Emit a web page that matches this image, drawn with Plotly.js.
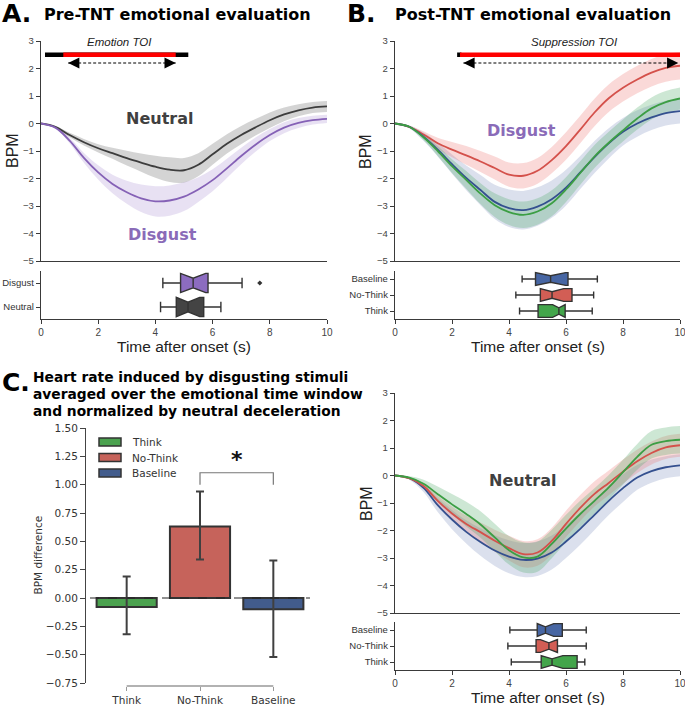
<!DOCTYPE html>
<html><head><meta charset="utf-8">
<script src="https://cdn.plot.ly/plotly-3.0.1.min.js"></script>
<style>html,body{margin:0;padding:0;background:#fff}#chart{width:685px;height:705px}</style>
</head><body><div id="chart"></div>
<script>
// ---------------- DATA ----------------
const time = [0,0.5,1,1.5,2,2.5,3,3.5,4,4.5,5,5.5,6,6.5,7,7.5,8,8.5,9,9.5,10];

// A. Pre-TNT
const preNeutral     = [0,-0.12,-0.42,-0.68,-0.9,-1.08,-1.26,-1.42,-1.57,-1.68,-1.7,-1.5,-1.12,-0.74,-0.42,-0.14,0.12,0.33,0.48,0.58,0.62];
const preNeutralSem  = [0,0.03,0.08,0.12,0.15,0.2,0.27,0.33,0.4,0.45,0.45,0.42,0.38,0.35,0.33,0.3,0.28,0.25,0.22,0.2,0.2];
const preDisgust     = [0,-0.15,-0.62,-1.25,-1.78,-2.2,-2.5,-2.72,-2.83,-2.8,-2.66,-2.4,-2.06,-1.63,-1.18,-0.77,-0.42,-0.15,0.02,0.12,0.17];
const preDisgustSem  = [0,0.03,0.1,0.18,0.26,0.34,0.42,0.5,0.55,0.55,0.52,0.45,0.4,0.35,0.3,0.26,0.22,0.2,0.18,0.16,0.15];

// B. Post-TNT, disgust
const postBaseline    = [0,-0.12,-0.48,-0.95,-1.48,-1.98,-2.42,-2.85,-3.08,-3.15,-3.02,-2.75,-2.33,-1.78,-1.22,-0.72,-0.3,0.0,0.22,0.38,0.45];
const postBaselineSem = [0,0.05,0.15,0.25,0.35,0.45,0.55,0.62,0.68,0.7,0.7,0.68,0.65,0.6,0.58,0.55,0.5,0.48,0.46,0.45,0.45];
const postNoThink     = [0,-0.12,-0.4,-0.72,-0.95,-1.16,-1.38,-1.62,-1.86,-1.9,-1.72,-1.33,-0.82,-0.22,0.4,0.92,1.3,1.6,1.85,2.02,2.1];
const postNoThinkSem  = [0,0.04,0.12,0.2,0.28,0.34,0.38,0.42,0.44,0.46,0.47,0.48,0.5,0.5,0.5,0.5,0.5,0.5,0.5,0.5,0.5];
const postThink       = [0,-0.12,-0.5,-1.0,-1.55,-2.05,-2.55,-2.97,-3.22,-3.32,-3.2,-2.9,-2.4,-1.8,-1.2,-0.7,-0.25,0.18,0.55,0.78,0.91];
const postThinkSem    = [0,0.04,0.1,0.18,0.25,0.32,0.38,0.43,0.47,0.48,0.48,0.47,0.45,0.43,0.42,0.4,0.4,0.4,0.4,0.4,0.4];

// Post-TNT, neutral
const neuBaseline    = [0,-0.1,-0.45,-1.08,-1.6,-2.05,-2.42,-2.73,-2.95,-3.07,-3.02,-2.8,-2.4,-1.94,-1.43,-0.92,-0.46,-0.07,0.16,0.3,0.37];
const neuBaselineSem = [0,0.05,0.15,0.25,0.35,0.42,0.5,0.56,0.6,0.62,0.63,0.62,0.6,0.58,0.55,0.52,0.5,0.45,0.42,0.4,0.4];
const neuNoThink     = [0,-0.1,-0.38,-0.92,-1.38,-1.76,-2.06,-2.37,-2.64,-2.86,-2.8,-2.38,-1.76,-1.18,-0.67,-0.27,0.14,0.52,0.82,1.02,1.1];
const neuNoThinkSem  = [0,0.04,0.1,0.18,0.25,0.3,0.35,0.4,0.45,0.48,0.48,0.48,0.48,0.47,0.46,0.45,0.44,0.43,0.42,0.42,0.42];
const neuThink       = [0,-0.08,-0.3,-0.68,-1.05,-1.4,-1.78,-2.25,-2.72,-2.98,-2.95,-2.49,-1.93,-1.4,-0.92,-0.43,0.12,0.68,1.12,1.25,1.3];
const neuThinkSem    = [0,0.05,0.15,0.28,0.38,0.45,0.48,0.5,0.52,0.55,0.55,0.52,0.5,0.48,0.46,0.45,0.45,0.47,0.5,0.5,0.5];

// Box plots (peak latency, s)
const preCats   = ['Disgust','Neutral'];
const preLo     = [4.26, 4.18];
const preQ1     = [4.88, 4.73];
const preMed    = [5.32, 5.14];
const preQ3     = [5.84, 5.69];
const preHi     = [7.03, 6.29];
const preOutlierCat = ['Disgust'];
const preOutlier    = [7.65];

const condCats  = ['Baseline','No-Think','Think'];
const postLo    = [4.46, 4.24, 4.37];
const postQ1    = [4.93, 5.10, 5.02];
const postMed   = [5.46, 5.51, 5.75];
const postQ3    = [6.07, 6.21, 5.97];
const postHi    = [7.10, 6.97, 6.92];

const neuLo     = [4.03, 3.96, 4.08];
const neuQ1     = [4.99, 4.95, 5.13];
const neuMed    = [5.28, 5.40, 5.51];
const neuQ3     = [5.87, 5.70, 6.39];
const neuHi     = [6.71, 6.71, 6.66];

// C. Bars
const conditions = ['Think','No-Think','Baseline'];
const bpmDiff    = [-0.08, 0.63, -0.10];
const ciUpper    = [0.19, 0.94, 0.33];
const ciLower    = [-0.32, 0.34, -0.52];

// TOI windows
const emotionToiLine  = [0.14, 5.15];
const emotionToiRed   = [0.78, 4.71];
const emotionToiArrow = [0.95, 4.71];
const suppToiRed      = [2.28, 10];
const suppToiArrow    = [2.4, 9.94];

// ---------------- STYLE ----------------
const W = 685, H = 705;
const fx = v => v / W, fy = v => 1 - v / H;
const AR = 'Liberation Sans, Arial, sans-serif';
const DJ = 'DejaVu Sans, Verdana, sans-serif';
const axCol = '#3a3a3a';
const C = {
  neutral:'#3d3d3d', disgust:'#8561b6',
  base:'#34508f', nothink:'#d4514b', think:'#3c9e44'
};
const F = {
  neutral:'rgba(120,120,120,0.32)', disgust:'rgba(150,120,200,0.22)',
  base:'rgba(110,130,185,0.25)', nothink:'rgba(235,115,110,0.27)', think:'rgba(70,165,95,0.27)'
};
const BOX = {Disgust:'#8c6cc0', Neutral:'#444444', Baseline:'#4766a3', 'No-Think':'#d25e55', Think:'#43a54b'};
const BAR = {Think:'#4ba24f', 'No-Think':'#c6635b', Baseline:'#425c8c'};

// ---------------- TRACES ----------------
const traces = [];
function band(m, s, fill, xa, ya){
  const lo = m.map((v,i)=>v-s[i]), hi = m.map((v,i)=>v+s[i]);
  traces.push({x:time, y:lo, type:'scatter', mode:'lines', line:{width:0, shape:'spline'}, xaxis:xa, yaxis:ya, hoverinfo:'skip'});
  traces.push({x:time, y:hi, type:'scatter', mode:'lines', line:{width:0, shape:'spline'}, fill:'tonexty', fillcolor:fill, xaxis:xa, yaxis:ya, hoverinfo:'skip'});
}
function curve(m, col, xa, ya){
  traces.push({x:time, y:m, type:'scatter', mode:'lines', line:{color:col, width:1.8, shape:'spline'}, xaxis:xa, yaxis:ya});
}
band(preNeutral, preNeutralSem, F.neutral, 'x','y');
band(preDisgust, preDisgustSem, F.disgust, 'x','y');
curve(preNeutral, C.neutral, 'x','y');
curve(preDisgust, C.disgust, 'x','y');

band(postBaseline, postBaselineSem, F.base, 'x3','y3');
band(postNoThink, postNoThinkSem, F.nothink, 'x3','y3');
band(postThink, postThinkSem, F.think, 'x3','y3');
curve(postNoThink, C.nothink, 'x3','y3');
curve(postBaseline, C.base, 'x3','y3');
curve(postThink, C.think, 'x3','y3');

band(neuBaseline, neuBaselineSem, F.base, 'x5','y5');
band(neuNoThink, neuNoThinkSem, F.nothink, 'x5','y5');
band(neuThink, neuThinkSem, F.think, 'x5','y5');
curve(neuBaseline, C.base, 'x5','y5');
curve(neuNoThink, C.nothink, 'x5','y5');
curve(neuThink, C.think, 'x5','y5');

// TOI bars (decorations)
function seg(x0x1, y, col, w, xa, ya, dash){
  traces.push({x:x0x1, y:[y,y], type:'scatter', mode:'lines', line:{color:col, width:w, dash:dash||'solid'}, xaxis:xa, yaxis:ya, hoverinfo:'skip'});
}
seg(emotionToiLine, 2.5, '#000', 4.5, 'x','y');
seg(emotionToiRed, 2.5, '#ff0000', 4.5, 'x','y');
seg(emotionToiArrow, 2.2, '#000', 1, 'x','y','3px,2px');
seg([suppToiRed[0]-0.1, suppToiRed[0]+0.05], 2.5, '#000', 4.5, 'x3','y3');
seg(suppToiRed, 2.5, '#ff0000', 4.5, 'x3','y3');
seg(suppToiArrow, 2.2, '#000', 1, 'x3','y3','3px,2px');

// Box plots
function boxes(cats, lo, q1, med, q3, hi, xa, ya){
  cats.forEach((c,i)=>{
    const span = Math.min(med[i]-q1[i], q3[i]-med[i]);
    traces.push({type:'box', orientation:'h', y:[c], q1:[q1[i]], median:[med[i]], q3:[q3[i]],
      lowerfence:[lo[i]], upperfence:[hi[i]], notched:true, notchspan:[span], notchwidth:0.25,
      width:0.8, whiskerwidth:0.55, fillcolor:BOX[c], line:{color:'#333', width:1.4},
      boxpoints:false, xaxis:xa, yaxis:ya, hoverinfo:'skip'});
  });
}
boxes(preCats, preLo, preQ1, preMed, preQ3, preHi, 'x2','y2');
traces.push({type:'scatter', mode:'markers', x:preOutlier, y:preOutlierCat, marker:{symbol:'diamond', size:4, color:'#333'}, xaxis:'x2', yaxis:'y2'});
boxes(condCats, postLo, postQ1, postMed, postQ3, postHi, 'x4','y4');
boxes(condCats, neuLo, neuQ1, neuMed, neuQ3, neuHi, 'x6','y6');

// Bars
traces.push({type:'bar', x:conditions, y:bpmDiff, width:0.82,
  marker:{color:conditions.map(c=>BAR[c]), line:{color:'#333', width:2}},
  error_y:{type:'data', symmetric:false,
    array:ciUpper.map((v,i)=>v-bpmDiff[i]), arrayminus:bpmDiff.map((v,i)=>v-ciLower[i]),
    color:'#404040', thickness:2, width:4},
  xaxis:'x7', yaxis:'y7'});

// ---------------- AXES ----------------
function mainX(l, r, anchor){
  return {domain:[fx(l),fx(r)], range:[0,10], showline:true, linecolor:axCol, linewidth:1.2,
    showticklabels:false, ticks:'', showgrid:false, zeroline:false, anchor};
}
function mainY(t, b, anchor){
  return {domain:[fy(b),fy(t)], range:[-5,3], dtick:1, tick0:0, showline:true, linecolor:axCol, linewidth:1.2,
    ticks:'outside', ticklen:4, tickcolor:axCol, tickfont:{family:AR, size:9.5, color:'#444'},
    showgrid:false, zeroline:false, anchor};
}
function boxX(l, r, anchor){
  return {domain:[fx(l),fx(r)], range:[0,10], tickvals:[0,2,4,6,8,10], showline:true, linecolor:axCol, linewidth:1.2,
    ticks:'outside', ticklen:4, tickcolor:axCol, tickfont:{family:AR, size:10, color:'#444'},
    ticklabeloverflow:'allow', showgrid:false, zeroline:false, anchor};
}
function boxY(t, b, anchor, cats){
  return {domain:[fy(b),fy(t)], type:'category', categoryorder:'array', categoryarray:cats.slice().reverse(),
    range:[-0.5, cats.length-0.5], showline:true, linecolor:axCol, linewidth:1.2,
    ticks:'outside', ticklen:4, tickcolor:axCol, tickfont:{family:AR, size:9.5, color:'#333'},
    showgrid:false, zeroline:false, anchor};
}

const shapes = [
  // zero dashed line in C
  {type:'line', xref:'x7', yref:'y7', x0:-0.5, x1:2.5, y0:0, y1:0, line:{color:'#222', width:1, dash:'dash'}},
  // bottom axis line (trimmed) in C
  {type:'line', xref:'x7', yref:'paper', x0:0, x1:2, y0:fy(686), y1:fy(686), line:{color:'#999', width:1.3}},
  // significance bracket
  {type:'path', xref:'x7', yref:'y7', path:'M 1,1.0 L 1,1.105 L 2,1.105 L 2,1.0', line:{color:'#777', width:1.2}}
];
// legend patches for C
const legendCols = [BAR['Think'], BAR['No-Think'], BAR['Baseline']];
const legendY = [442, 457.5, 473];
legendY.forEach((yy,i)=>{
  shapes.push({type:'rect', xref:'paper', yref:'paper', x0:fx(99), x1:fx(121), y0:fy(yy+4), y1:fy(yy-4),
    fillcolor:legendCols[i], line:{color:'#333', width:1.5}});
});

const ann = [];
function txt(text, x, y, opt){
  ann.push(Object.assign({text, xref:'paper', yref:'paper', x:fx(x), y:fy(y), showarrow:false,
    xanchor:'center', yanchor:'middle'}, opt||{}));
}
// titles
txt('<b>A.</b>', 0, 13, {xanchor:'left', font:{family:DJ, size:25, color:'#000'}});
txt('<b>Pre-TNT emotional evaluation</b>', 42, 14, {xanchor:'left', font:{family:DJ, size:16, color:'#000'}});
txt('<b>B.</b>', 345, 13, {xanchor:'left', font:{family:DJ, size:25, color:'#000'}});
txt('<b>Post-TNT emotional evaluation</b>', 393, 14, {xanchor:'left', font:{family:DJ, size:16, color:'#000'}});
txt('<b>C.</b>', 0, 382, {xanchor:'left', font:{family:DJ, size:25, color:'#000'}});
txt('<b>Heart rate induced by disgusting stimuli</b>', 31, 377, {xanchor:'left', font:{family:DJ, size:13.8, color:'#000'}});
txt('<b>averaged over the emotional time window</b>', 31, 394, {xanchor:'left', font:{family:DJ, size:13.8, color:'#000'}});
txt('<b>and normalized by neutral deceleration</b>', 31, 411, {xanchor:'left', font:{family:DJ, size:13.8, color:'#000'}});
// curve labels
txt('<b>Neutral</b>', 159.5, 118, {font:{family:DJ, size:16, color:'#404040'}});
txt('<b>Disgust</b>', 162, 235, {font:{family:DJ, size:16, color:'#8a6bb8'}});
txt('<b>Disgust</b>', 521.5, 130, {font:{family:DJ, size:16, color:'#8a6bb8'}});
txt('<b>Neutral</b>', 522, 480, {font:{family:DJ, size:16, color:'#404040'}});
// TOI labels
txt('<i>Emotion TOI</i>', 119.5, 42, {font:{family:AR, size:11.5, color:'#222'}});
txt('<i>Suppression TOI</i>', 574, 42, {font:{family:AR, size:11.5, color:'#222'}});
// axis titles
txt('BPM', 13, 151, {textangle:-90, font:{family:AR, size:16, color:'#222'}});
txt('BPM', 366, 151, {textangle:-90, font:{family:AR, size:16, color:'#222'}});
txt('BPM', 366, 503, {textangle:-90, font:{family:AR, size:16, color:'#222'}});
txt('Time after onset (s)', 184, 346, {font:{family:AR, size:15.5, color:'#222'}});
txt('Time after onset (s)', 537.5, 346, {font:{family:AR, size:15.5, color:'#222'}});
txt('Time after onset (s)', 537.5, 697, {font:{family:AR, size:15.5, color:'#222'}});
txt('BPM difference', 37, 555.5, {textangle:-90, font:{family:DJ, size:10.5, color:'#333'}});
// legend labels
conditions.forEach((c,i)=> txt(c, 130, legendY[i], {xanchor:'left', font:{family:DJ, size:10.5, color:'#333'}}));
// significance star
ann.push({text:'<b>*</b>', xref:'x7', yref:'y7', x:1.5, y:1.22, showarrow:false, font:{family:DJ, size:22, color:'#111'}});
// arrowheads
function arrowHead(xa, ya, tip, from, y){
  ann.push({text:'', xref:xa, yref:ya, axref:xa, ayref:ya, x:tip, y:y, ax:from, ay:y, showarrow:true,
    arrowhead:2, arrowsize:1.4, arrowwidth:1.6, arrowcolor:'#000'});
}
arrowHead('x','y', emotionToiArrow[0], emotionToiArrow[0]+0.4, 2.2);
arrowHead('x','y', emotionToiArrow[1], emotionToiArrow[1]-0.4, 2.2);
arrowHead('x3','y3', suppToiArrow[0], suppToiArrow[0]+0.4, 2.2);
arrowHead('x3','y3', suppToiArrow[1], suppToiArrow[1]-0.4, 2.2);

const layout = {
  width:W, height:H, margin:{l:0,r:0,t:0,b:0}, paper_bgcolor:'#fff', plot_bgcolor:'rgba(0,0,0,0)',
  showlegend:false, font:{family:AR, color:'#333'}, boxmode:'overlay',
  xaxis: mainX(41,327,'y'),  yaxis: mainY(41,261,'x'),
  xaxis2: boxX(41,327,'y2'), yaxis2: boxY(271,319,'x2', preCats),
  xaxis3: mainX(395,680,'y3'), yaxis3: mainY(41,261,'x3'),
  xaxis4: boxX(395,680,'y4'), yaxis4: boxY(271,319,'x4', condCats),
  xaxis5: mainX(395,680,'y5'), yaxis5: mainY(393,613,'x5'),
  xaxis6: boxX(395,680,'y6'), yaxis6: boxY(622,670,'x6', condCats),
  xaxis7: {domain:[fx(90),fx(310)], type:'category', categoryorder:'array', categoryarray:conditions,
    range:[-0.5,2.5], anchor:'free', position:fy(686), showline:false, ticks:'outside', ticklen:4,
    tickcolor:'#999', tickfont:{family:DJ, size:10.5, color:'#333'}, showgrid:false, zeroline:false},
  yaxis7: {domain:[fy(683),fy(428)], range:[-0.75,1.5], dtick:0.25, tick0:0, tickformat:'.2f',
    anchor:'free', position:fx(85), showline:true, linecolor:'#444', linewidth:1.2, ticks:'outside', ticklen:5,
    tickcolor:'#444', tickfont:{family:DJ, size:10.5, color:'#333'}, showgrid:false, zeroline:false},
  shapes, annotations:ann
};
Plotly.newPlot('chart', traces, layout, {staticPlot:true, displayModeBar:false});
</script>
</body></html>
